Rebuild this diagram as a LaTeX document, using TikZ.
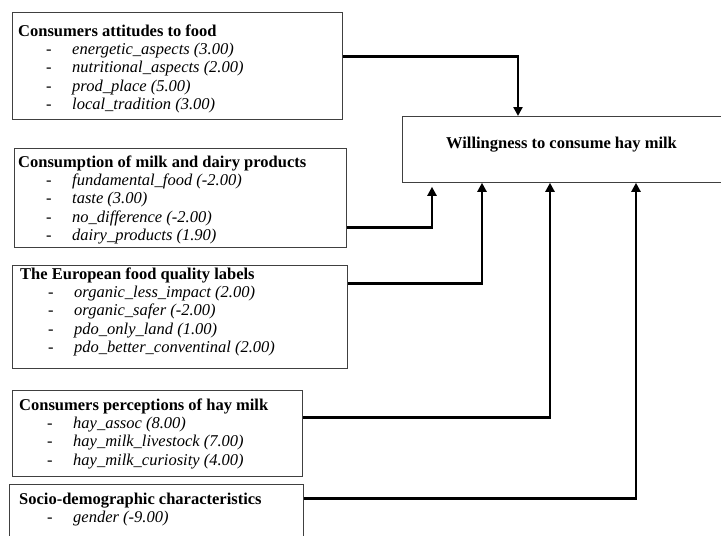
\documentclass[tikz,border=0pt]{standalone}
\usepackage{fontspec}
\setmainfont{Liberation Serif}
\usetikzlibrary{arrows.meta, positioning}

\newcommand{\vitem}[1]{\makebox[54pt][l]{\hspace{28pt}-}\textit{#1}}

\begin{document}
\begin{tikzpicture}[x=1pt, y=-1pt,
    grp/.style={draw=black!75, line width=0.8pt, rectangle,
                anchor=north west, inner sep=0pt},
    txt/.style={anchor=north west, inner sep=0pt, align=left,
                font=\fontsize{16.5}{18.2}\selectfont},
    head/.style={anchor=base, inner sep=0pt,
                 font=\fontsize{16.5}{18.2}\selectfont\bfseries},
    link/.style={->, line width=2.6pt},
    >={Triangle[length=9pt, width=9pt]}
]
\useasboundingbox (0,0) rectangle (721,536);
\clip (0,0) rectangle (721,536);
%% Groups of explanatory variables
\node[grp, minimum width=330, minimum height=107] (att) at (12,12) {};
\node[txt] (atttxt) at (18,24.7) {
    \textbf{Consumers attitudes to food}\\
    \vitem{energetic\_aspects (3.00)}\\
    \vitem{nutritional\_aspects (2.00)}\\
    \vitem{prod\_place (5.00)}\\
    \vitem{local\_tradition (3.00)}
};
\node[grp, minimum width=332, minimum height=99] (cons) at (14,148) {};
\node[txt] (constxt) at (18,155.7) {
    \textbf{Consumption of milk and dairy products}\\
    \vitem{fundamental\_food (-2.00)}\\
    \vitem{taste (3.00)}\\
    \vitem{no\_difference (-2.00)}\\
    \vitem{dairy\_products (1.90)}
};
\node[grp, minimum width=335, minimum height=103] (eu) at (12,265) {};
\node[txt] (eutxt) at (20,267.7) {
    \textbf{The European food quality labels}\\
    \vitem{organic\_less\_impact (2.00)}\\
    \vitem{organic\_safer (-2.00)}\\
    \vitem{pdo\_only\_land (1.00)}\\
    \vitem{pdo\_better\_conventinal (2.00)}
};
\node[grp, minimum width=290, minimum height=86] (perc) at (12,390) {};
\node[txt] (perctxt) at (19,398.7) {
    \textbf{Consumers perceptions of hay milk}\\
    \vitem{hay\_assoc (8.00)}\\
    \vitem{hay\_milk\_livestock (7.00)}\\
    \vitem{hay\_milk\_curiosity (4.00)}
};
\node[grp, minimum width=294, minimum height=70] (socio) at (9,484) {};
\node[txt] (sociotxt) at (19,492.7) {
    \textbf{Socio-demographic characteristics}\\
    \vitem{gender (-9.00)}
};
%% Dependent variable
\node[grp, minimum width=340, minimum height=66] (will) at (402,116) {};
\node[head] (willtxt) at (561.5,148) {Willingness to consume hay milk};
%% Arrows: groups to dependent variable
\draw[link] ([yshift=9.5pt]att.east) -| ([xshift=116pt]will.north west);
\draw[link, shorten >=4pt] ([yshift=-29.5pt]cons.east) -| ([xshift=30pt]will.south west);
\draw[link] ([yshift=33.5pt]eu.east) -| ([xshift=80pt]will.south west);
\draw[link] ([yshift=16pt]perc.east) -| ([xshift=148pt]will.south west);
\draw[link] ([yshift=21pt]socio.east) -| ([xshift=234pt]will.south west);
\end{tikzpicture}
\end{document}
